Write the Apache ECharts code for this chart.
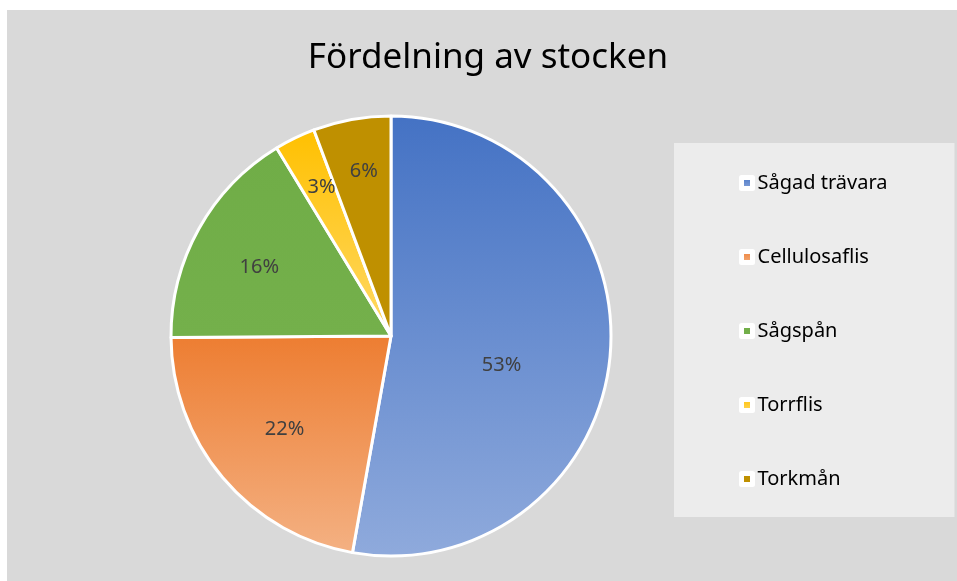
<!DOCTYPE html>
<html>
<head>
<meta charset="utf-8">
<script src="https://cdn.jsdelivr.net/npm/echarts@6/dist/echarts.min.js"></script>
<style>
html,body{margin:0;padding:0;background:#fff;}
#chart{position:absolute;left:7px;top:10px;width:950px;height:571px;}
</style>
</head>
<body>
<div id="chart"></div>
<script>
var names = ['Sågad trävara', 'Cellulosaflis', 'Sågspån', 'Torrflis', 'Torkmån'];
var values = [52.8, 22.1, 16.4, 3.0, 5.7];
var topColors = ['#4472c4', '#ed7d31', '#70ad47', '#ffc000', '#bf9000'];
var bottomColors = ['#8faadc', '#f4b183', '#74b04b', '#ffd966', '#bf9000'];
// nudge labels toward where Excel puts them
var labelOffsets = [[-2, 19], [-20, 20], [-33, -14], [-20, -47], [-7, -54]];

var font = '"Noto Sans", sans-serif';

function grad(i){
	return new echarts.graphic.LinearGradient(0, 0, 0, 1, [
		{offset: 0, color: topColors[i]},
		{offset: 1, color: bottomColors[i]}
	]);
}

var data = [];
for (var i = 0; i < names.length; i++) {
	data.push({
		name: names[i],
		value: values[i],
		itemStyle: {color: grad(i)},
		label: {offset: labelOffsets[i]}
	});
}

var myChart = echarts.init(document.getElementById('chart'));
var option = {
	backgroundColor: '#d9d9d9',
	animation: false,
	title: {
		text: 'Fördelning av stocken',
		left: 476,
		top: 26,
		textAlign: 'center',
		textStyle: {fontFamily: font, fontSize: 35, fontWeight: 'normal', color: '#000'}
	},
	legend: {
		orient: 'vertical',
		left: 667,
		top: 133,
		padding: [28, 67, 26, 65],
		backgroundColor: '#ececec',
		icon: 'rect',
		itemWidth: 11,
		itemHeight: 11,
		itemGap: 50,
		itemStyle: {borderColor: '#fff', borderWidth: 5},
		textStyle: {fontFamily: font, fontSize: 20, color: '#000', lineHeight: 24},
		data: names
	},
	series: [
		{
			type: 'pie',
			center: [384, 326],
			radius: 220,
			startAngle: 90,
			clockwise: true,
			itemStyle: {borderColor: '#fff', borderWidth: 3},
			label: {
				show: true,
				position: 'inside',
				formatter: '{d}%',
				fontFamily: font,
				fontSize: 20,
				color: '#404040'
			},
			labelLine: {show: false},
			emphasis: {disabled: true},
			percentPrecision: 0,
			data: data
		}
	]
};
myChart.setOption(option);
</script>
</body>
</html>
